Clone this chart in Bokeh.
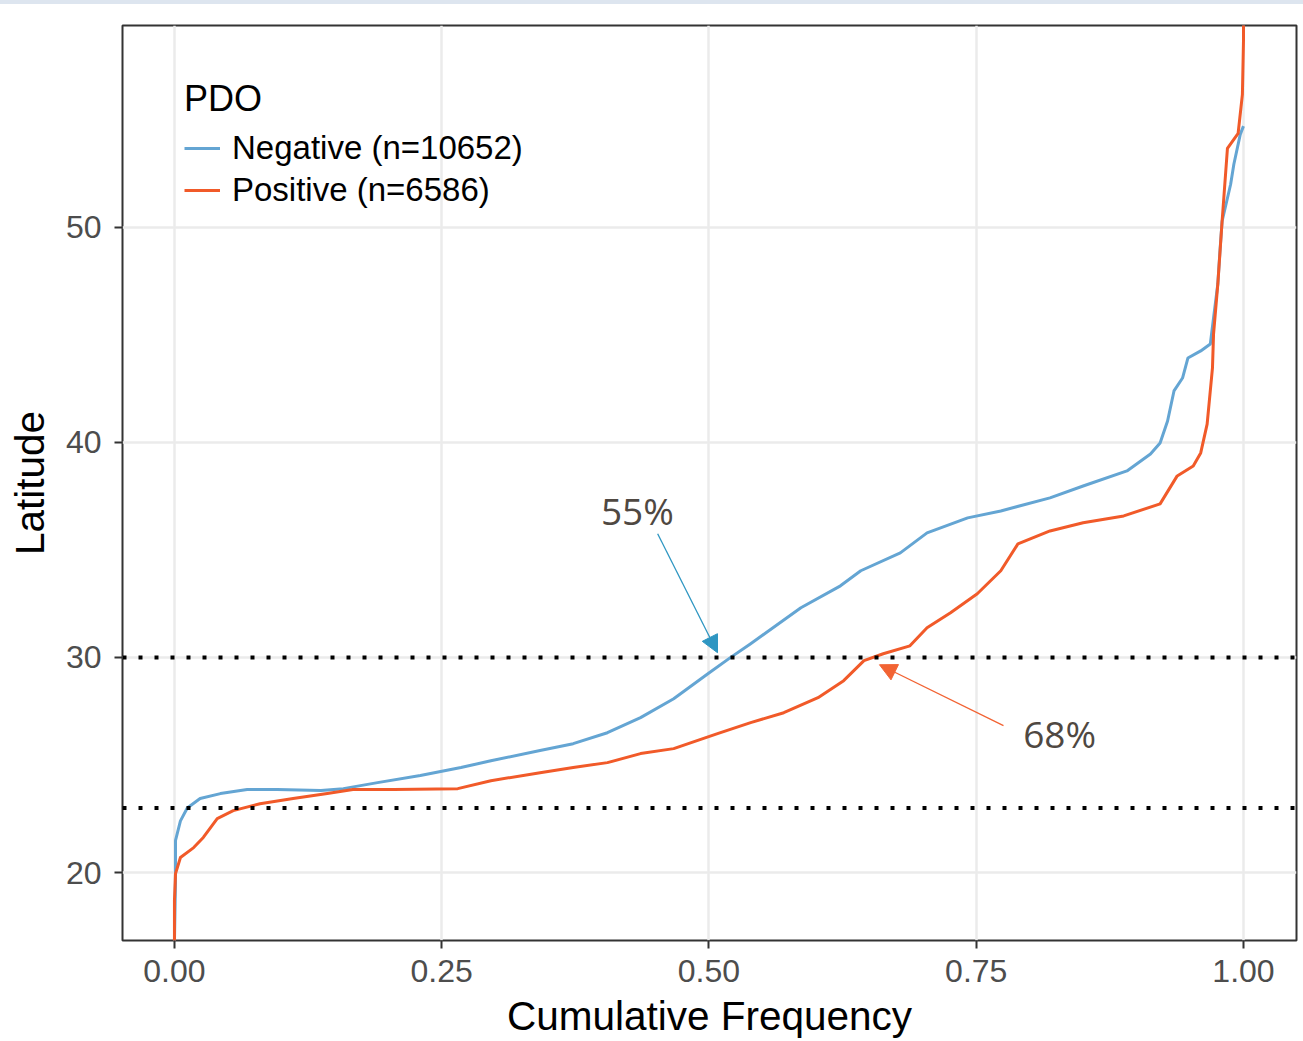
from bokeh.plotting import figure
from bokeh.models import (Range1d, FixedTicker, NumeralTickFormatter, Span, Arrow,
                          NormalHead, Label, Legend, LegendItem, Div)
from bokeh.layouts import column
from bokeh.embed import file_html
from bokeh.resources import INLINE

# ---- data ----
neg_freq = [0.0, 0.001, 0.001, 0.0056, 0.012, 0.024, 0.043, 0.068, 0.096, 0.137, 0.158,
            0.190, 0.230, 0.268, 0.296, 0.342, 0.373, 0.405, 0.436, 0.467, 0.499, 0.520,
            0.539, 0.586, 0.623, 0.642, 0.679, 0.704, 0.742, 0.773, 0.819, 0.850, 0.891,
            0.913, 0.922, 0.929, 0.935, 0.943, 0.948, 0.960, 0.969, 0.972, 0.976, 0.978,
            0.980, 0.988, 0.991, 0.997, 1.0]
neg_lat = [16.8, 19.6, 21.5, 22.4, 23.0, 23.44, 23.67, 23.86, 23.86, 23.81, 23.90,
           24.18, 24.51, 24.88, 25.20, 25.67, 25.99, 26.50, 27.20, 28.08, 29.24, 29.99,
           30.64, 32.31, 33.33, 34.03, 34.86, 35.79, 36.49, 36.81, 37.42, 37.97, 38.67,
           39.46, 39.97, 40.99, 42.39, 42.99, 43.92, 44.25, 44.57, 45.78, 47.36, 48.89,
           50.28, 52.00, 52.93, 54.32, 54.70]

pos_freq = [0.0, 0.0, 0.001, 0.0056, 0.018, 0.027, 0.040, 0.055, 0.080, 0.111, 0.143,
            0.167, 0.205, 0.265, 0.296, 0.342, 0.373, 0.405, 0.436, 0.467, 0.508, 0.539,
            0.570, 0.602, 0.626, 0.645, 0.663, 0.688, 0.704, 0.726, 0.751, 0.773, 0.789,
            0.819, 0.850, 0.888, 0.922, 0.938, 0.953, 0.960, 0.966, 0.971, 0.972, 0.976,
            0.980, 0.985, 0.995, 0.999, 1.0, 1.0]
pos_lat = [16.8, 18.7, 19.95, 20.70, 21.16, 21.63, 22.51, 22.88, 23.20, 23.44, 23.67,
           23.86, 23.86, 23.90, 24.27, 24.64, 24.88, 25.11, 25.53, 25.76, 26.46, 26.97,
           27.43, 28.13, 28.92, 29.85, 30.17, 30.54, 31.38, 32.08, 32.96, 34.03, 35.28,
           35.88, 36.26, 36.58, 37.14, 38.44, 38.90, 39.51, 40.85, 43.46, 45.03, 47.36,
           50.28, 53.67, 54.37, 56.18, 58.64, 60.0]

series_names = ["Negative (n=10652)", "Positive (n=6586)"]
legend_title = "PDO"
ref_lats = [30, 23]
x_ticks = [0.0, 0.25, 0.5, 0.75, 1.0]
y_ticks = [20, 30, 40, 50]

ann_texts = ["55%", "68%"]
ann_text_x = [0.433, 0.828]
ann_text_y = [36.81, 26.46]
ann_tail_x = [0.452, 0.7755]
ann_tail_y = [35.75, 26.83]
ann_tip_x = [0.508, 0.6595]
ann_tip_y = [30.22, 29.66]

# ---- styles ----
BLUE = "#64a5d3"
ORANGE = "#f15a29"
ARROW_COLORS = ["#2e96c2", "#f26333"]
FONT = "Liberation Sans"

p = figure(width=1303, height=1037, output_backend="svg", toolbar_location=None,
           x_range=Range1d(-0.0486, 1.0496), y_range=Range1d(16.84, 59.38),
           min_border_left=122, min_border_right=7, min_border_top=21,
           min_border_bottom=101)

p.background_fill_color = "white"
p.border_fill_color = "white"
p.outline_line_color = "#333333"
p.outline_line_width = 2

p.xgrid.grid_line_color = "#ebebeb"
p.ygrid.grid_line_color = "#ebebeb"
p.xgrid.grid_line_width = 2.5
p.ygrid.grid_line_width = 2.5

p.xaxis.ticker = FixedTicker(ticks=x_ticks)
p.yaxis.ticker = FixedTicker(ticks=y_ticks)
p.xaxis.formatter = NumeralTickFormatter(format="0.00")
for ax in (p.xaxis, p.yaxis):
    ax.axis_line_color = None
    ax.major_tick_line_color = "#333333"
    ax.major_tick_line_width = 2
    ax.major_tick_out = 8
    ax.major_tick_in = 0
    ax.minor_tick_line_color = None
    ax.major_label_text_font = FONT
    ax.major_label_text_font_size = "32px"
    ax.major_label_text_color = "#4d4d4d"
    ax.axis_label_text_font = FONT
    ax.axis_label_text_font_size = "40.5px"
    ax.axis_label_text_font_style = "normal"
    ax.axis_label_text_color = "black"
p.xaxis.axis_label = "Cumulative Frequency"
p.yaxis.axis_label = "Latitude"
p.xaxis.major_label_standoff = 11
p.yaxis.major_label_standoff = 13
p.xaxis.axis_label_standoff = 8
p.yaxis.axis_label_standoff = 10

for lat in ref_lats:
    p.add_layout(Span(location=lat, dimension="width", line_color="black",
                      line_width=4, line_dash="4 12"))

r_neg = p.line(neg_freq, neg_lat, line_color=BLUE, line_width=3, line_join="round")
r_pos = p.line(pos_freq, pos_lat, line_color=ORANGE, line_width=3, line_join="round")

for i in range(len(ann_texts)):
    c = ARROW_COLORS[i]
    p.add_layout(Arrow(end=NormalHead(size=17, fill_color=c, line_color=c),
                       x_start=ann_tail_x[i], y_start=ann_tail_y[i],
                       x_end=ann_tip_x[i], y_end=ann_tip_y[i],
                       line_color=c, line_width=1.3))
    p.add_layout(Label(x=ann_text_x[i], y=ann_text_y[i], text=ann_texts[i],
                       text_align="center", text_baseline="middle",
                       text_font="Open Sans", text_font_size="37px",
                       text_color="#4f4842"))

legend = Legend(items=[LegendItem(label=series_names[0], renderers=[r_neg]),
                       LegendItem(label=series_names[1], renderers=[r_pos])],
                location=(62, 731), title=legend_title)
legend.title_text_font = FONT
legend.title_text_font_size = "36px"
legend.title_text_font_style = "normal"
legend.title_text_color = "black"
legend.title_standoff = 9
legend.label_text_font = FONT
legend.label_text_font_size = "33px"
legend.label_text_color = "black"
legend.glyph_width = 36
legend.glyph_height = 30
legend.label_standoff = 12
legend.spacing = 4
legend.padding = 0
legend.margin = 0
legend.background_fill_alpha = 0
legend.border_line_alpha = 0
p.add_layout(legend)

band = Div(text="", width=1303, height=4, margin=0,
           styles={"background-color": "#dde5ef"})
layout = column(band, p, spacing=0)

open("out.html", "w").write(file_html(layout, INLINE))
